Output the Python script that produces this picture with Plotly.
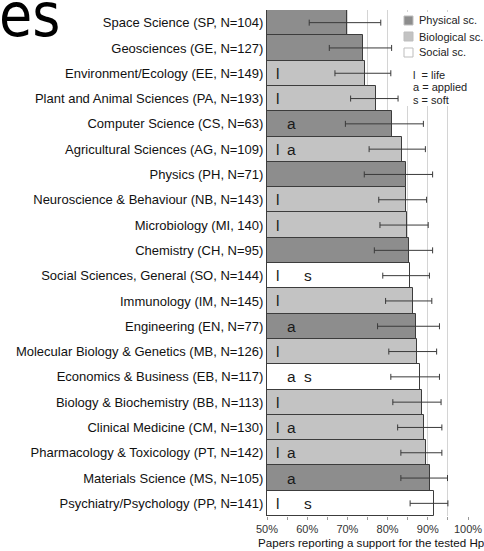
import plotly.graph_objects as go

categories = [
    "Space Science (SP, N=104)", "Geosciences (GE, N=127)", "Environment/Ecology (EE, N=149)",
    "Plant and Animal Sciences (PA, N=193)", "Computer Science (CS, N=63)",
    "Agricultural Sciences (AG, N=109)", "Physics (PH, N=71)", "Neuroscience & Behaviour (NB, N=143)",
    "Microbiology (MI, 140)", "Chemistry (CH, N=95)", "Social Sciences, General (SO, N=144)",
    "Immunology (IM, N=145)", "Engineering (EN, N=77)", "Molecular Biology & Genetics (MB, N=126)",
    "Economics & Business (EB, N=117)", "Biology & Biochemistry (BB, N=113)",
    "Clinical Medicine (CM, N=130)", "Pharmacology & Toxicology (PT, N=142)",
    "Materials Science (MS, N=105)", "Psychiatry/Psychology (PP, N=141)",
]
values = [69.9, 74.0, 74.5, 77.1, 81.0, 83.5, 84.6, 84.6, 84.9, 85.2,
          85.6, 86.2, 87.1, 87.4, 88.1, 88.5, 89.1, 89.5, 90.5, 91.5]
ci_low = [60.5, 65.5, 66.9, 70.8, 69.5, 75.4, 74.2, 77.8, 78.1, 76.7,
          78.8, 79.5, 77.5, 80.3, 80.8, 81.3, 82.5, 83.3, 83.3, 85.6]
ci_high = [78.3, 81.0, 80.8, 82.6, 88.9, 89.4, 91.2, 89.7, 90.1, 91.2,
           90.4, 91.0, 92.9, 92.2, 92.9, 93.3, 93.5, 93.5, 94.9, 95.0]
groups = ["P", "P", "B", "B", "P", "B", "P", "B", "B", "P",
          "S", "B", "P", "B", "S", "B", "B", "B", "P", "S"]
life = [0, 0, 1, 1, 0, 1, 0, 1, 1, 0, 1, 1, 0, 1, 0, 1, 1, 1, 0, 1]
applied = [0, 0, 0, 0, 1, 1, 0, 0, 0, 0, 0, 0, 1, 0, 1, 0, 1, 1, 1, 0]
soft = [0, 0, 0, 0, 0, 0, 0, 0, 0, 0, 1, 0, 0, 0, 1, 0, 0, 0, 0, 1]
tick_vals = [50, 60, 70, 80, 90, 100]
tick_text = ["50%", "60%", "70%", "80%", "90%", "100%"]
group_names = {"P": "Physical sc.", "B": "Biological sc.", "S": "Social sc."}
group_colors = {"P": "#8d8d8d", "B": "#c3c3c3", "S": "#ffffff"}
key_lines = ["l  = life", "a = applied", "s = soft"]

FONT = "Liberation Sans, Arial, sans-serif"

fig = go.Figure()
fig.add_trace(go.Bar(
    y=categories, x=values, orientation="h",
    marker=dict(color=[group_colors[g] for g in groups],
                line=dict(color="#3c3c3c", width=1)),
    error_x=dict(type="data", symmetric=False,
                 array=[h - v for h, v in zip(ci_high, values)],
                 arrayminus=[v - l for l, v in zip(ci_low, values)],
                 color="#3a3a3a", thickness=1, width=3),
    width=1.0, showlegend=False, hoverinfo="skip",
))

annotations = []
for cat, l, a, s in zip(categories, life, applied, soft):
    for flag, ch, xv in ((l, "l", 52.7), (a, "a", 56.2), (s, "s", 60.2)):
        if flag:
            annotations.append(dict(x=xv, y=cat, xref="x", yref="y", text=ch, showarrow=False,
                                    font=dict(family=FONT, size=15.5, color="#1a1a1a")))

W, H = 484, 551
L, R, T, B = 267, 468, 10, 516  # plot area in pixels
def px(x):
    return (x - L) / (R - L)
def py(y):
    return (B - y) / (B - T)

shapes = [dict(type="rect", xref="paper", yref="paper", x0=px(400), x1=px(465), y0=py(106), y1=py(12),
               fillcolor="white", line=dict(width=0), layer="above")]
for i, g in enumerate(["P", "B", "S"]):
    yc = 20.5 + i * 16
    shapes.append(dict(type="rect", xref="paper", yref="paper", x0=px(404), x1=px(413),
                       y0=py(yc + 4.5), y1=py(yc - 4.5), fillcolor=group_colors[g],
                       line=dict(color="#bdbdbd", width=1), layer="above"))
    annotations.append(dict(x=px(417), y=py(yc), xref="paper", yref="paper", text=group_names[g],
                            xanchor="left", yanchor="middle", showarrow=False,
                            font=dict(family=FONT, size=11, color="#222")))
for i, t in enumerate(key_lines):
    annotations.append(dict(x=px(411), y=py(75 + i * 12.3), xref="paper", yref="paper", text=t,
                            xanchor="left", yanchor="middle", showarrow=False,
                            font=dict(family=FONT, size=11, color="#222")))

annotations.append(dict(x=px(371), y=py(542), xref="paper", yref="paper",
                        text="Papers reporting a support for the tested Hp", showarrow=False,
                        xanchor="center", yanchor="middle",
                        font=dict(family=FONT, size=11.6, color="#111")))
annotations.append(dict(x=px(-3), y=py(15), xref="paper", yref="paper", text="es", showarrow=False,
                        xanchor="left", yanchor="middle",
                        font=dict(family="DejaVu Sans Condensed, Liberation Sans Narrow, Liberation Sans, sans-serif",
                                  size=60, color="#000")))

fig.update_layout(
    width=W, height=H,
    margin=dict(l=L, r=W - R, t=T, b=H - B, autoexpand=False),
    paper_bgcolor="white", plot_bgcolor="white",
    bargap=0, barmode="overlay",
    shapes=shapes, annotations=annotations,
    font=dict(family=FONT, color="#111"),
)
fig.update_xaxes(range=[50, 100], tickvals=tick_vals, ticktext=tick_text, automargin=False,
                 showgrid=True, gridcolor="#d4d4d4", gridwidth=1,
                 minor=dict(dtick=5, showgrid=True, gridcolor="#d4d4d4", ticks="outside",
                            ticklen=3, tickcolor="#999"),
                 ticks="outside", ticklen=3, tickcolor="#999",
                 tickfont=dict(size=11, color="#333"), zeroline=False, showline=False)
fig.update_yaxes(autorange="reversed", categoryorder="array", categoryarray=categories,
                 automargin=False,
                 tickfont=dict(size=13, color="#111"), showline=True, linecolor="#3c3c3c",
                 linewidth=1, ticks="", showgrid=False)

fig.write_html("out.html", config={"displayModeBar": False},
               post_script="document.body.style.margin='0';document.body.style.overflow='hidden';")
